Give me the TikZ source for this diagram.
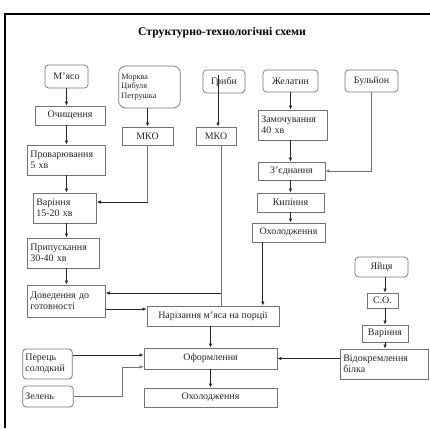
\documentclass[tikz,border=0pt]{standalone}
\usepackage{fontspec}
\setmainfont{Liberation Serif}
\usetikzlibrary{arrows.meta,positioning}

\begin{document}
\begin{tikzpicture}[x=0.03cm,y=-0.03cm,
    box/.style={draw=black!55, line width=0.6pt, inner sep=0.08cm, text=black!85,
      font=\fontsize{8.5}{9.5}\selectfont},
    inbox/.style={box, rounded corners=3pt},
    arr/.style={-{Latex[length=3.5pt,width=3pt]}, line width=0.7pt, black!85},
    thin/.style={line width=0.5pt, black!55}]
  \useasboundingbox (0,0) rectangle (430,428);
  \draw[line width=2.2pt] (5,428) -- (5,14) -- (430,14);
  \node[font=\bfseries\fontsize{10}{12}\selectfont] (title) at (222,33) {Структурно-технологічні схеми};

  % raw materials
  \node[inbox, minimum width=1.29cm, minimum height=0.69cm] (myaso) at (66.5,76.5) {М'ясо};
  \node[inbox, rounded corners=6pt, text width=1.69cm, align=left, minimum height=1.26cm,
        font=\fontsize{7}{8.3}\selectfont] (ovochi) at (149.5,87) {Морква\\Цибуля\\Петрушка};
  \node[inbox, minimum width=1.26cm, minimum height=0.69cm] (hryby) at (224,81.5) {Гриби};
  \node[inbox, minimum width=1.65cm, minimum height=0.66cm] (zhelatyn) at (290.5,81) {Желатин};
  \node[inbox, minimum width=1.59cm, minimum height=0.66cm] (bulyon) at (371.5,81) {Бульйон};

  % meat line
  \node[box, minimum width=2.1cm, minimum height=0.57cm] (ochysch) at (70,115.5) {Очищення};
  \node[box, text width=2.17cm, align=left, minimum height=0.9cm] (provar) at (66.5,160) {Проварювання\\5 хв};
  \node[box, text width=1.72cm, align=left, minimum height=0.9cm] (varinnya) at (65,208) {Варіння\\15-20 хв};
  \node[box, text width=1.99cm, align=left, minimum height=0.9cm] (pryp) at (63.5,253) {Припускання\\30-40 хв};
  \node[box, text width=2.17cm, align=left, minimum height=0.96cm] (doved) at (66.5,301) {Доведення до\\готовності};

  \node[box, minimum width=1.53cm, minimum height=0.54cm] (mkoA) at (147.5,136) {МКО};
  \node[box, minimum width=1.2cm, minimum height=0.54cm] (mkoB) at (216,136) {МКО};

  % jelly line
  \node[box, text width=1.9cm, align=left, minimum height=0.9cm] (zamoch) at (293,125) {Замочування\\40 хв};
  \node[box, minimum width=2.01cm, minimum height=0.54cm] (zyedn) at (291.5,171) {З'єднання};
  \node[box, minimum width=2.01cm, minimum height=0.57cm] (kypinnya) at (290.5,202.5) {Кипіння};
  \node[box, minimum width=2.19cm, minimum height=0.57cm] (okholodA) at (288.5,232.5) {Охолодження};

  % eggs
  \node[inbox, minimum width=1.59cm, minimum height=0.6cm] (yaytsya) at (381.5,267) {Яйця};
  \node[box, minimum width=0.93cm, minimum height=0.45cm, inner sep=0.03cm] (so) at (382.5,300.5) {С.О.};
  \node[box, minimum width=1.38cm, minimum height=0.51cm, inner sep=0.03cm] (varinnyaB) at (385,333.5) {Варіння};
  \node[box, text width=2.47cm, align=left, minimum height=0.9cm] (vidokr) at (384.5,364) {Відокремлення\\білка};

  % assembly
  \node[box, minimum width=3.96cm, minimum height=0.6cm] (narizannya) at (213,316) {Нарізання м'яса на порції};
  \node[box, minimum width=3.99cm, minimum height=0.63cm] (oform) at (210.5,358.5) {Оформлення};
  \node[box, minimum width=3.99cm, minimum height=0.57cm] (okholodB) at (210.5,397.5) {Охолодження};
  \node[inbox, text width=1.33cm, align=left, minimum height=0.9cm] (perets) at (47.5,364) {Перець\\солодкий};
  \node[inbox, text width=1.36cm, align=left, minimum height=0.63cm] (zelen) at (48,396.5) {Зелень};

  % connectors
  \draw[arr] (myaso.south) -- (myaso.south |- ochysch.north);
  \draw[arr] (myaso.south |- ochysch.south) -- (myaso.south |- provar.north);
  \draw[arr] (myaso.south |- provar.south) -- (myaso.south |- varinnya.north);
  \draw[arr] (myaso.south |- varinnya.south) -- (myaso.south |- pryp.north);
  \draw[arr] (myaso.south |- pryp.south) -- (myaso.south |- doved.north);

  \draw[arr] (mkoA.north |- ovochi.south) -- (mkoA.north);
  \coordinate (varin) at ([yshift=0.18cm]varinnya.east);
  \draw[thin] (mkoA.south) -- (mkoA.south |- varin);
  \draw[arr] (mkoA.south |- varin) -- (varin);

  \coordinate (hr) at ([xshift=-0.18cm,yshift=-0.15cm]hryby.north);
  \draw[arr] (hr) -- (hr |- mkoB.north);
  \coordinate (mb) at ([xshift=0.15cm]mkoB.south);
  \draw[thin] (mb) -- (mb |- narizannya.north);
  \coordinate (dovtop) at ([yshift=0.24cm]doved.east);
  \draw[arr] (mb |- dovtop) -- (dovtop);
  \coordinate (dovbot) at ([yshift=-0.24cm]doved.east);
  \draw[arr] (dovbot) -- (dovbot -| narizannya.west);

  \draw[arr] (zhelatyn.south) -- (zhelatyn.south |- zamoch.north);
  \draw[arr] (zhelatyn.south |- zamoch.south) -- (zhelatyn.south |- zyedn.north);
  \draw[arr] (zhelatyn.south |- zyedn.south) -- (zhelatyn.south |- kypinnya.north);
  \draw[arr] (zhelatyn.south |- kypinnya.south) -- (zhelatyn.south |- okholodA.north);
  \draw[thin, -{Latex[length=3.5pt,width=3pt]}] (bulyon.south) |- (zyedn.east);
  \coordinate (okh) at ([xshift=-0.77cm]okholodA.south);
  \draw[arr] (okh) -- (okh |- narizannya.north);

  \draw[arr] (varinnyaB.north |- yaytsya.south) -- (varinnyaB.north |- so.north);
  \draw[arr] (varinnyaB.north |- so.south) -- (varinnyaB.north);
  \draw[arr] (varinnyaB.south) -- (varinnyaB.south |- vidokr.north);
  \draw[arr] (oform.east -| vidokr.west) -- (oform.east);

  \draw[arr] (oform.north |- narizannya.south) -- (oform.north);
  \draw[arr] (oform.south) -- (okholodB.north);
  \coordinate (per) at ([yshift=0.27cm]perets.east);
  \draw[arr] (per) -- (per -| oform.west);
  \draw[thin, -{Latex[length=3.5pt,width=3pt]}] (zelen.east) -- ++(1.47cm,0) |- ([yshift=-0.25cm]oform.west);
\end{tikzpicture}
\end{document}
